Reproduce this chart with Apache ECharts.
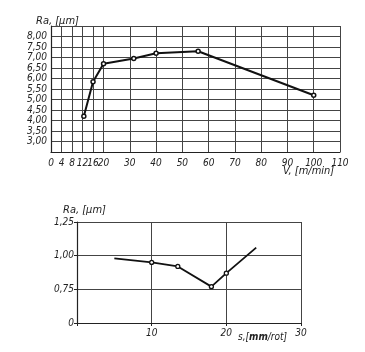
<!DOCTYPE html>
<html>
<head>
<meta charset="utf-8">
<script src="https://cdn.jsdelivr.net/npm/echarts@6/dist/echarts.min.js"></script>
<style>
html,body{margin:0;padding:0;background:#fff;}
#c{width:365px;height:352px;}
</style>
</head>
<body>
<div id="c"></div>
<script>
// ---- data: top chart (Ra vs cutting speed V) ----
const topSpeeds = [12.5, 16, 20, 31.5, 40, 56, 100];
const topRa     = [4.2, 5.85, 6.7, 6.95, 7.2, 7.3, 5.2];
const topXTicks = [0, 4, 8, 12, 16, 20, 30, 40, 50, 60, 70, 80, 90, 100, 110];
const topYTicks = [3, 3.5, 4, 4.5, 5, 5.5, 6, 6.5, 7, 7.5, 8];

// ---- data: bottom chart (Ra vs feed s) ----
const botFeed   = [5, 10, 13.5, 18, 20, 24];
const botRa     = [0.98, 0.95, 0.92, 0.77, 0.87, 1.06];
const botYTickValues = [0.5, 0.75, 1.0, 1.25];
const botYTickLabels = ['0', '0,75', '1,00', '1,25'];
const botXTicks = [10, 20, 30];

const FONT = "'DejaVu Sans Condensed', 'Liberation Sans Narrow', 'DejaVu Sans', sans-serif";
const INK = '#222';
const GRID = '#444';

const chart = echarts.init(document.getElementById('c'), null, {renderer: 'canvas'});

const labelStyle = {color: INK, fontFamily: FONT, fontStyle: 'italic', fontSize: 10};

function fmtRa(v) { return v.toFixed(2).replace('.', ','); }

const option = {
  backgroundColor: '#fff',
  animation: false,
  grid: [
    {left: 51, top: 26, width: 289, height: 126, containLabel: false},
    {left: 77, top: 222, width: 224, height: 101, containLabel: false}
  ],
  xAxis: [
    {
      gridIndex: 0, type: 'value', min: 0, max: 110, interval: 2,
      axisLine: {show: true, lineStyle: {color: INK, width: 1.2}},
      axisTick: {show: false},
      splitLine: {show: false},
      axisLabel: Object.assign({}, labelStyle, {
        margin: 6,
        formatter: v => topXTicks.indexOf(v) >= 0 ? String(v) : ''
      })
    },
    {
      gridIndex: 1, type: 'value', min: 0, max: 30, interval: 10,
      axisLine: {show: true, lineStyle: {color: INK, width: 1.2}},
      axisTick: {show: true, length: 3, lineStyle: {color: INK}},
      splitLine: {show: true, lineStyle: {color: GRID, width: 1}},
      axisLabel: Object.assign({}, labelStyle, {
        margin: 5,
        formatter: v => botXTicks.indexOf(v) >= 0 ? String(v) : ''
      })
    }
  ],
  yAxis: [
    {
      gridIndex: 0, type: 'value', min: 2.5, max: 8.5, interval: 0.5,
      axisLine: {show: true, lineStyle: {color: INK, width: 1.2}},
      axisTick: {show: false},
      splitLine: {show: true, lineStyle: {color: GRID, width: 1}},
      axisLabel: Object.assign({}, labelStyle, {
        margin: 4,
        formatter: v => topYTicks.some(t => Math.abs(t - v) < 1e-6) ? fmtRa(v) : ''
      })
    },
    {
      gridIndex: 1, type: 'value', min: 0.5, max: 1.25, interval: 0.25,
      axisLine: {show: true, lineStyle: {color: INK, width: 1.2}},
      axisTick: {show: true, length: 3, lineStyle: {color: INK}},
      splitLine: {show: true, lineStyle: {color: GRID, width: 1}},
      axisLabel: Object.assign({}, labelStyle, {
        margin: 3,
        formatter: v => {
          const i = botYTickValues.findIndex(t => Math.abs(t - v) < 1e-6);
          return i >= 0 ? botYTickLabels[i] : '';
        }
      })
    }
  ],
  series: [
    {
      type: 'line', xAxisIndex: 0, yAxisIndex: 0,
      data: topSpeeds.map((x, i) => [x, topRa[i]]),
      symbol: 'circle', symbolSize: 4,
      itemStyle: {color: '#fff', borderColor: '#111', borderWidth: 1.5},
      lineStyle: {color: '#111', width: 2},
      markLine: {
        silent: true, symbol: ['none', 'none'], animation: false,
        label: {show: false},
        lineStyle: {color: GRID, width: 1, type: 'solid'},
        data: topXTicks.slice(1).map(v => ({xAxis: v}))
      },
      z: 5
    },
    {
      type: 'line', xAxisIndex: 1, yAxisIndex: 1,
      data: botFeed.map((x, i) => [x, botRa[i]]),
      symbol: 'circle',
      symbolSize: (val, p) => (p.dataIndex === 0 || p.dataIndex === botFeed.length - 1) ? 0 : 4,
      itemStyle: {color: '#fff', borderColor: '#111', borderWidth: 1.3},
      lineStyle: {color: '#111', width: 1.8},
      z: 5
    }
  ],
  graphic: [
    {type: 'text', left: 36, top: 16,
     style: {text: 'Ra, [μm]', font: "italic 11px " + FONT, fill: INK}},
    {type: 'text', left: 283, top: 166,
     style: {text: 'V, [m/min]', font: "italic 11px " + FONT, fill: INK}},
    {type: 'text', left: 63, top: 205,
     style: {text: 'Ra, [μm]', font: "italic 11px " + FONT, fill: INK}},
    {type: 'text', left: 238, top: 332,
     style: {
       text: '{a|s,[}{b|mm}{a|/rot]}',
       rich: {
         a: {fontFamily: FONT, fontStyle: 'italic', fontSize: 10, fill: INK},
         b: {fontFamily: FONT, fontStyle: 'italic', fontWeight: 'bold', fontSize: 10, fill: INK}
       }
     }}
  ]
};

chart.setOption(option);
</script>
</body>
</html>
